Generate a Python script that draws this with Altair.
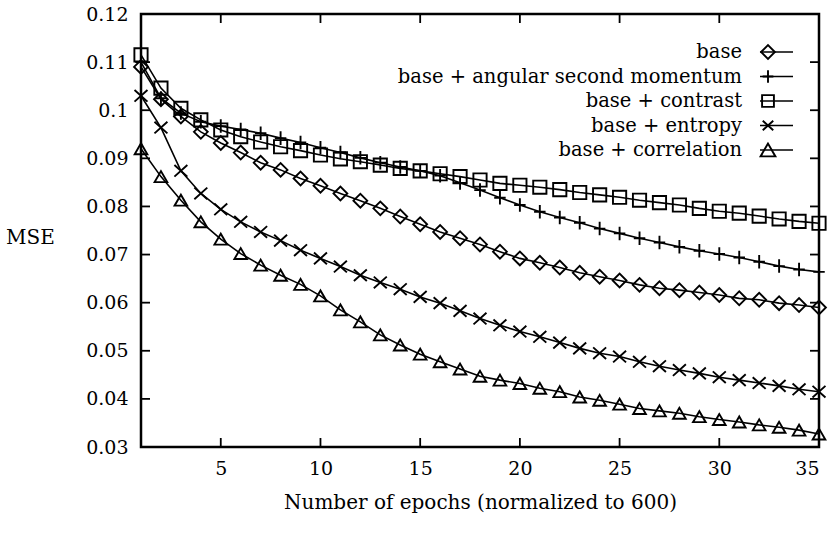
import altair as alt
import pandas as pd

epochs = list(range(1, 36))
series_names = [
    "base",
    "base + angular second momentum",
    "base + contrast",
    "base + entropy",
    "base + correlation",
]
base = [0.1090, 0.1023, 0.0987, 0.0955, 0.0932, 0.0912, 0.0891, 0.0876, 0.0858, 0.0843,
        0.0827, 0.0812, 0.0796, 0.0779, 0.0763, 0.0747, 0.0734, 0.0721, 0.0706, 0.0692,
        0.0683, 0.0673, 0.0662, 0.0654, 0.0646, 0.0637, 0.0630, 0.0626, 0.0621, 0.0616,
        0.0609, 0.0606, 0.0599, 0.0595, 0.0590]
asm = [0.1100, 0.1025, 0.0994, 0.0976, 0.0967, 0.0960, 0.0952, 0.0942, 0.0933, 0.0922,
       0.0912, 0.0901, 0.0891, 0.0882, 0.0874, 0.0864, 0.0849, 0.0834, 0.0818, 0.0803,
       0.0789, 0.0777, 0.0766, 0.0754, 0.0744, 0.0734, 0.0725, 0.0716, 0.0708, 0.0701,
       0.0694, 0.0685, 0.0676, 0.0669, 0.0664]
contrast = [0.1115, 0.1046, 0.1004, 0.0980, 0.0959, 0.0945, 0.0934, 0.0924, 0.0916, 0.0907,
            0.0899, 0.0893, 0.0886, 0.0879, 0.0874, 0.0868, 0.0862, 0.0855, 0.0848, 0.0844,
            0.0840, 0.0835, 0.0829, 0.0824, 0.0819, 0.0813, 0.0808, 0.0803, 0.0796, 0.0790,
            0.0786, 0.0780, 0.0774, 0.0769, 0.0765]
entropy = [0.1030, 0.0964, 0.0874, 0.0827, 0.0794, 0.0768, 0.0747, 0.0729, 0.0709, 0.0692,
           0.0675, 0.0657, 0.0642, 0.0628, 0.0612, 0.0599, 0.0583, 0.0567, 0.0553, 0.0540,
           0.0529, 0.0517, 0.0505, 0.0495, 0.0488, 0.0477, 0.0468, 0.0460, 0.0453, 0.0445,
           0.0439, 0.0433, 0.0427, 0.0420, 0.0415]
correlation = [0.0920, 0.0862, 0.0813, 0.0768, 0.0732, 0.0702, 0.0678, 0.0657, 0.0638, 0.0614,
               0.0585, 0.0560, 0.0533, 0.0512, 0.0493, 0.0477, 0.0462, 0.0447, 0.0439, 0.0432,
               0.0422, 0.0415, 0.0404, 0.0397, 0.0389, 0.0380, 0.0375, 0.0370, 0.0363, 0.0357,
               0.0352, 0.0346, 0.0341, 0.0335, 0.0327]
x_ticks = [5, 10, 15, 20, 25, 30, 35]
y_ticks = [0.03, 0.04, 0.05, 0.06, 0.07, 0.08, 0.09, 0.1, 0.11, 0.12]

PLUS = "M-0.85,0L0.85,0M0,-1L0,1"
XMARK = "M-1,-0.9L1,0.9M-1,0.9L1,-0.9"
shapes = ["diamond", PLUS, "square", XMARK, "triangle-up"]
sizes = [190, 160, 140, 110, 220]

all_values = [base, asm, contrast, entropy, correlation]
rows = []
for name, vals in zip(series_names, all_values):
    for e, v in zip(epochs, vals):
        rows.append({"epoch": e, "mse": v, "series": name})
df = pd.DataFrame(rows)

W, H = 678, 433
FONT = "DejaVu Serif"
LINE_W = 1.6
MARK_W = 1.9

xscale = alt.Scale(domain=[1, 35], nice=False, zero=False)
yscale = alt.Scale(domain=[0.03, 0.12], nice=False, zero=False)

xenc = alt.X("epoch:Q", scale=xscale,
             axis=alt.Axis(values=x_ticks, title="Number of epochs (normalized to 600)",
                           labelPadding=12, titlePadding=14, ticks=False, domain=False, grid=False))
yenc = alt.Y("mse:Q", scale=yscale,
             axis=alt.Axis(values=y_ticks, format=".2~f", title="MSE", titleAngle=0,
                           titleX=-111, titleY=223, titleAlign="center", titleBaseline="middle",
                           labelPadding=13, ticks=False, domain=False, grid=False))

lines = alt.Chart(df).mark_line(color="black", strokeWidth=LINE_W).encode(
    x=xenc, y=yenc, detail="series:N", order="epoch:Q"
)
points = alt.Chart(df).mark_point(filled=False, color="black", strokeWidth=MARK_W, opacity=1).encode(
    x=alt.X("epoch:Q"), y=alt.Y("mse:Q"),
    shape=alt.Shape("series:N", scale=alt.Scale(domain=series_names, range=shapes), legend=None),
    size=alt.Size("series:N", scale=alt.Scale(domain=series_names, range=sizes), legend=None),
)

xt = pd.DataFrame({"epoch": x_ticks[:-1]})
yt = pd.DataFrame({"mse": y_ticks[1:-1]})
tick_style = dict(color="black", strokeWidth=1.8)
bottom_ticks = alt.Chart(xt).mark_rule(**tick_style).encode(
    x="epoch:Q", y=alt.value(H), y2=alt.value(H - 9))
top_ticks = alt.Chart(xt).mark_rule(**tick_style).encode(
    x="epoch:Q", y=alt.value(0), y2=alt.value(9))
left_ticks = alt.Chart(yt).mark_rule(**tick_style).encode(
    y="mse:Q", x=alt.value(0), x2=alt.value(9))
right_ticks = alt.Chart(yt).mark_rule(**tick_style).encode(
    y="mse:Q", x=alt.value(W), x2=alt.value(W - 9))

legend_layers = []
for i, name in enumerate(series_names):
    ly = 38 + i * 24.5
    ldf = pd.DataFrame({"label": [name]})
    legend_layers.append(
        alt.Chart(ldf).mark_text(align="right", baseline="middle", font=FONT, fontSize=19.5,
                                 color="black").encode(
            x=alt.value(601), y=alt.value(ly), text="label:N"))
    legend_layers.append(
        alt.Chart(ldf).mark_rule(color="black", strokeWidth=LINE_W).encode(
            x=alt.value(619), x2=alt.value(652), y=alt.value(ly)))
    legend_layers.append(
        alt.Chart(ldf).mark_point(shape=shapes[i], size=sizes[i], filled=False, color="black",
                                  strokeWidth=MARK_W, opacity=1).encode(
            x=alt.value(627), y=alt.value(ly)))

chart = alt.layer(
    lines, points, bottom_ticks, top_ticks, left_ticks, right_ticks, *legend_layers
).properties(
    width=W, height=H,
    autosize=alt.AutoSizeParams(type="none"),
    padding={"left": 141, "top": 14, "right": 14, "bottom": 90},
    background="white",
).configure_view(
    stroke="black", strokeWidth=2.5
).configure_axis(
    labelFont=FONT, labelFontSize=19, labelColor="black",
    titleFont=FONT, titleFontSize=20, titleFontWeight="normal", titleColor="black",
)

chart.save("out.html", embed_options={"renderer": "svg", "actions": False})
